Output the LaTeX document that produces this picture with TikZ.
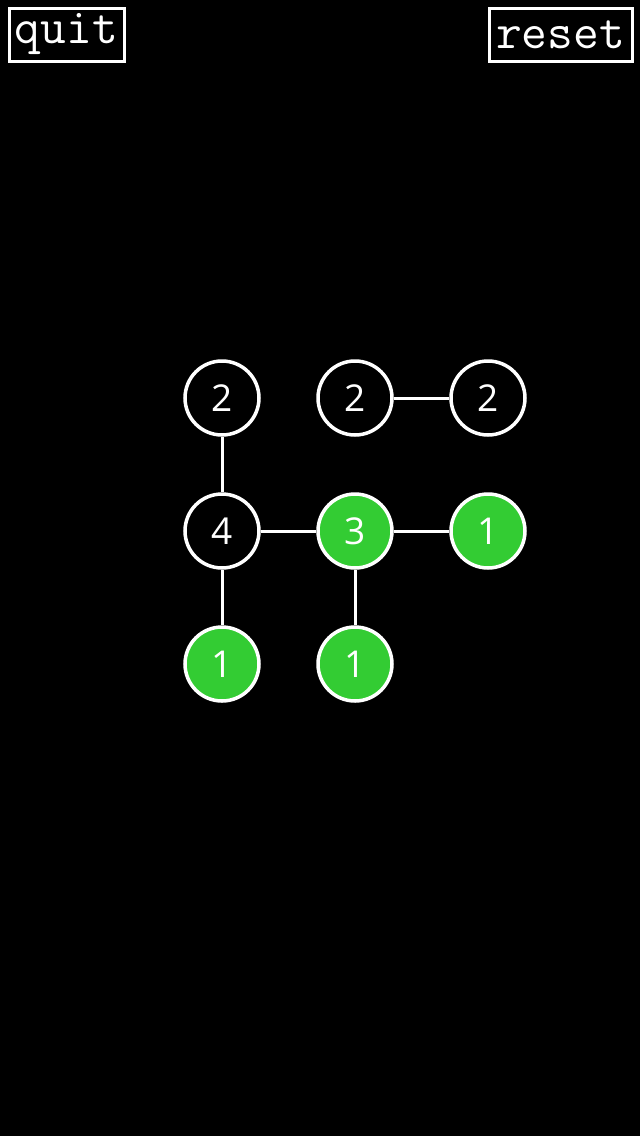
\documentclass[tikz,border=0pt]{standalone}
\usepackage{fontspec}
\setmainfont{Open Sans}
\definecolor{litgreen}{HTML}{33CC33}
\begin{document}
\begin{tikzpicture}[x=1pt,y=-1pt,
  btn/.style={draw=white,line width=3pt,inner sep=0pt,text=white,font=\ttfamily\fontsize{50}{50}\selectfont},
  cell/.style={circle,draw=white,line width=3.5pt,minimum size=74pt,inner sep=0pt,text=white,font=\fontsize{37}{37}\selectfont},
  lit/.style={cell,fill=litgreen},
  dark/.style={cell,fill=black},
  link/.style={draw=white,line width=3pt}]
  \fill[black] (0,0) rectangle (640,1136);
  \useasboundingbox (0,0) rectangle (640,1136);
  % buttons
  \node[btn,minimum width=115pt,minimum height=53pt] (quit) at (66.5,34.5) {quit};
  \node[btn,minimum width=143pt,minimum height=53pt] (reset) at (560.5,34.5) {reset};
  % grid nodes
  \node[dark] (a) at (222,398) {2};
  \node[dark] (b) at (355,398) {2};
  \node[dark] (c) at (488,398) {2};
  \node[dark] (d) at (222,531) {4};
  \node[lit]  (e) at (355,531) {3};
  \node[lit]  (f) at (488,531) {1};
  \node[lit]  (g) at (222,664) {1};
  \node[lit]  (h) at (355,664) {1};
  % links
  \draw[link] (b) -- (c);
  \draw[link] (a) -- (d);
  \draw[link] (d) -- (e);
  \draw[link] (e) -- (f);
  \draw[link] (d) -- (g);
  \draw[link] (e) -- (h);
\end{tikzpicture}
\end{document}
